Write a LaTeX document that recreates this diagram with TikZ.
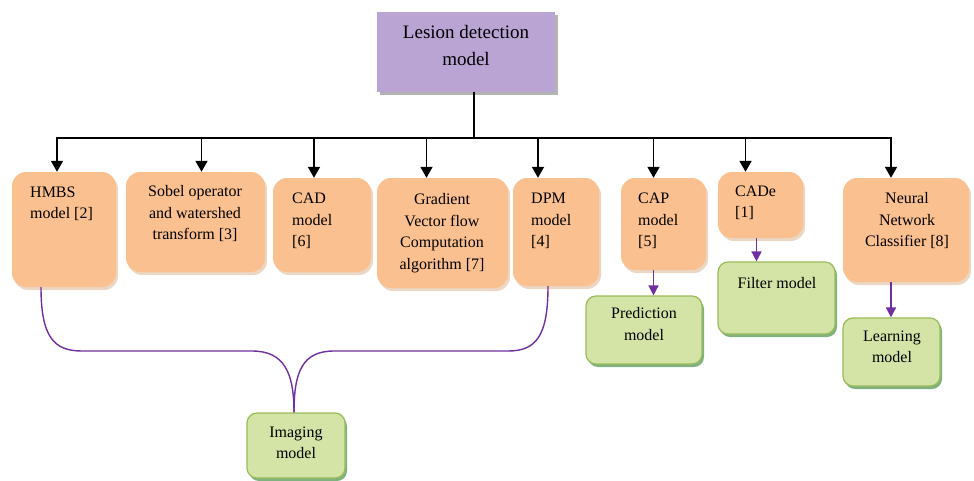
\documentclass[tikz,border=0pt]{standalone}
\usepackage{fontspec}
\setmainfont{Liberation Serif}
\usetikzlibrary{arrows.meta,fit,shadows}
\definecolor{boxorange}{RGB}{250,192,144}
\definecolor{boxgreen}{RGB}{212,228,166}
\definecolor{edgegreen}{RGB}{155,187,89}
\definecolor{boxpurple}{RGB}{185,164,212}
\definecolor{linepurple}{RGB}{112,48,160}
\tikzset{
  obox/.style={rounded corners=14pt, fill=boxorange, inner sep=0pt,
    drop shadow={shadow xshift=2pt, shadow yshift=-3pt, fill=brown!70, opacity=.45}},
  gbox/.style={rounded corners=10pt, fill=boxgreen, draw=edgegreen, line width=1.2pt, inner sep=0pt,
    drop shadow={shadow xshift=2pt, shadow yshift=-3pt, fill=black!60!green, opacity=.5}},
  txt/.style={font=\fontsize{16}{21.5}\selectfont, inner sep=0pt},
  barrow/.style={line width=1.8pt, -{Triangle[width=12pt,length=11pt]}},
  parrow/.style={linepurple, line width=1.6pt, -{Triangle[width=10pt,length=10pt]}},
  pline/.style={linepurple, line width=1.4pt},
}
\begin{document}
\begin{tikzpicture}[x=1pt,y=-1pt]
  \useasboundingbox (0,0) rectangle (974,480);
  % top box
  \node[fit={(377,12) (555,92)}, fill=boxpurple, inner sep=0pt,
    drop shadow={shadow xshift=3pt, shadow yshift=-3pt, fill=black!50, opacity=.6}] (top) {};
  \node[font=\fontsize{19}{27}\selectfont, align=center, inner sep=0pt] (top-t) at (466,45) {Lesion detection\\model};
  % orange boxes
  \foreach \n/\xa/\ya/\xb/\yb in {hmbs/12/172/116/287, sobel/126/172/265/272, cad/273/178/371/272,
      grad/377/178/508/288, dpm/513/178/599/286, cap/621/178/706/270, cade/718/172/803/238, nn/843/178/969/282}
    \node[obox, fit={(\xa,\ya) (\xb,\yb)}] (\n) {};
  % green boxes
  \foreach \n/\xa/\ya/\xb/\yb in {pred/586/296/702/364, filt/718/262/835/334,
      learn/843/318/940/386, imag/247/413/345/478}
    \node[gbox, fit={(\xa,\ya) (\xb,\yb)}] (\n) {};
  % texts
  \node[txt, align=left, anchor=west] (hmbs-t) at (30,204) {HMBS\\model [2]};
  \node[txt, align=center] (sobel-t) at (195,214) {Sobel operator\\and watershed\\transform [3]};
  \node[txt, align=left, anchor=west] (cad-t) at (292,221) {CAD\\model\\{[6]}};
  \node[txt, align=center] (grad-t) at (442,233) {Gradient\\Vector flow\\Computation\\algorithm [7]};
  \node[txt, align=left, anchor=west] (dpm-t) at (531,221) {DPM\\model\\{[4]}};
  \node[txt, align=left, anchor=west] (cap-t) at (638,221) {CAP\\model\\{[5]}};
  \node[txt, align=left, anchor=west] (cade-t) at (735,203) {CADe\\{[1]}};
  \node[txt, align=center] (nn-t) at (907,221) {Neural\\Network\\Classifier [8]};
  \node[txt, align=center] (pred-t) at (644,324) {Prediction\\model};
  \node[txt] (filt-t) at (777,283) {Filter model};
  \node[txt, align=center] (learn-t) at (892,347) {Learning\\model};
  \node[txt, align=center] (imag-t) at (296,443) {Imaging\\model};
  % tree
  \coordinate (bus) at (474,138);
  \draw[line width=1.8pt] (top.south -| bus) -- (bus);
  \draw[line width=1.8pt] (56,138) -- (892,138);
  \foreach \n/\dx in {hmbs/-7, sobel/6, cad/-8, grad/-16, dpm/-18, cap/-10, cade/-15, nn/-15}
    \draw[barrow] ([xshift=\dx pt]\n.north |- bus) -- ([xshift=\dx pt]\n.north);
  % purple
  \draw[parrow] ([xshift=-10pt]cap.south) -- ([xshift=-10pt]cap.south |- pred.north);
  \draw[parrow] ([xshift=-4pt]cade.south) -- ([xshift=-4pt]cade.south |- filt.north);
  \draw[parrow] ([xshift=-15pt]nn.south) -- ([xshift=-15pt]nn.south |- learn.north);
  \draw[pline] ([xshift=-23pt]hmbs.south) .. controls +(0,50) and +(-28,0) .. (82,351)
    -- (252,351) .. controls +(32,0) and +(0,-40) .. ([xshift=-2pt]imag.north);
  \draw[pline] ([xshift=-8pt]dpm.south) .. controls +(0,50) and +(28,0) .. (508,351)
    -- (334,351) .. controls +(-32,0) and +(0,-40) .. ([xshift=-2pt]imag.north);
\end{tikzpicture}
\end{document}
